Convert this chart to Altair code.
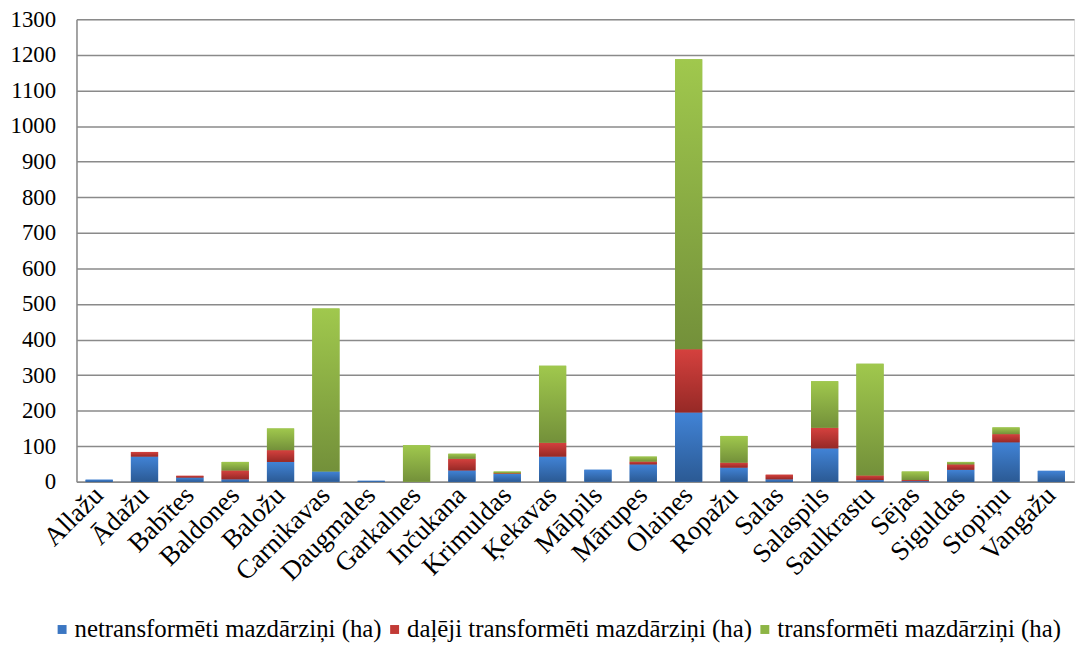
import altair as alt
import pandas as pd

categories = ["Allažu", "Ādažu", "Babītes", "Baldones", "Baložu", "Carnikavas",
              "Daugmales", "Garkalnes", "Inčukana", "Krimuldas", "Ķekavas", "Mālpils",
              "Mārupes", "Olaines", "Ropažu", "Salas", "Salaspils", "Saulkrastu",
              "Sējas", "Siguldas", "Stopiņu", "Vangažu"]
series_names = ["netransformēti mazdārziņi (ha)",
                "daļēji transformēti mazdārziņi (ha)",
                "transformēti mazdārziņi (ha)"]
netransformeti = [6, 71, 12, 7, 56, 29, 3, 0, 32, 22, 71, 34, 49, 195, 40, 7, 94, 5, 2, 34, 111, 31]
daleji = [0, 13, 5, 25, 33, 0, 0, 0, 33, 2, 39, 0, 8, 178, 14, 13, 58, 13, 3, 15, 23, 0]
transformeti = [0, 0, 0, 24, 61, 458, 0, 103, 14, 5, 216, 0, 14, 815, 75, 0, 131, 314, 24, 7, 19, 0]
y_ticks = list(range(0, 1301, 100))

flat_colors = ["#3b76c2", "#c23a36", "#8db545"]
grad_stops = [("#4183d6", "#2b5a94"), ("#d5413e", "#962926"), ("#a0c84d", "#73903a")]

rows = []
for i, c in enumerate(categories):
    for k, (s, vals) in enumerate(zip(series_names, [netransformeti, daleji, transformeti])):
        rows.append({"cat": c, "series": s, "order": k, "value": vals[i]})
df = pd.DataFrame(rows)

FONT = "Liberation Serif"
GRAY = "#8a8a8a"

x_enc = alt.X("cat:N", sort=categories,
              scale=alt.Scale(paddingInner=0.4, paddingOuter=0.2),
              axis=alt.Axis(title=None, labelAngle=-45, labelAlign="right",
                            labelBaseline="middle", labelFontSize=27, labelFont=FONT,
                            labelColor="black", ticks=False, tickSize=0,
                            domainColor=GRAY, domainWidth=1.5, labelPadding=9,
                            grid=False, labelOverlap=False))
y_enc = alt.Y("y0:Q", scale=alt.Scale(domain=[0, 1300], nice=False),
              axis=alt.Axis(title=None, values=y_ticks, format="d",
                            labelFontSize=23, labelFont=FONT,
                            labelColor="black", ticks=False, tickSize=0,
                            domainColor=GRAY, domainWidth=1.5, labelPadding=21,
                            grid=True, gridColor=GRAY, gridWidth=1.5))

base = alt.Chart(df).transform_stack(
    stack="value", as_=["y0", "y1"], groupby=["cat"],
    sort=[alt.SortField("order", order="ascending")]
)

flat = base.mark_bar().encode(
    x=x_enc, y=y_enc, y2="y1:Q",
    color=alt.Color("series:N",
                    scale=alt.Scale(domain=series_names, range=flat_colors),
                    legend=alt.Legend(title=None, orient="none", legendX=-27, legendY=602,
                                      direction="horizontal", symbolType="square",
                                      symbolSize=81, symbolStrokeWidth=0, padding=0,
                                      labelFontSize=25, labelFont=FONT, labelColor="black",
                                      columnPadding=0, labelOffset=0, labelLimit=1000))
)

layers = [flat]
for k, s in enumerate(series_names):
    top, bot = grad_stops[k]
    layers.append(
        base.transform_filter(alt.datum.series == s).mark_bar(
            fill=alt.Gradient(gradient="linear",
                              stops=[alt.GradientStop(color=top, offset=0),
                                     alt.GradientStop(color=bot, offset=1)],
                              x1=0, x2=0, y1=0, y2=1)
        ).encode(x=x_enc, y=y_enc, y2="y1:Q")
    )

chart = alt.layer(*layers).properties(
    width=1005, height=466,
    autosize=alt.AutoSizeParams(type="none"),
    padding={"left": 69, "top": 9, "right": 5, "bottom": 165},
).configure_view(stroke=None).configure(font=FONT)

chart.save("out.html", embed_options={"renderer": "svg", "actions": False})
